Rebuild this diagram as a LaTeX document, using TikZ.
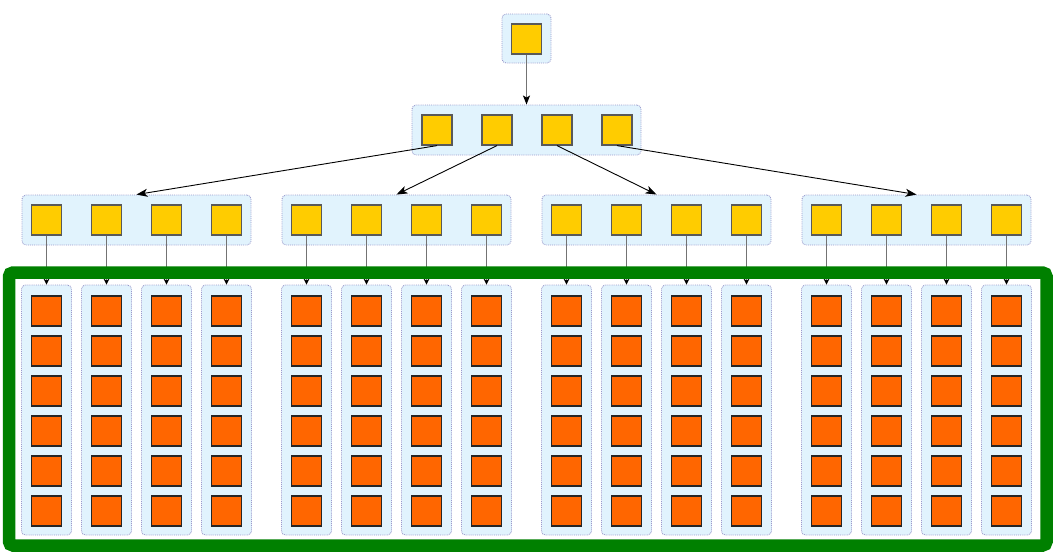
\documentclass[tikz,border=0pt]{standalone}
\usepackage{tikz}
\usetikzlibrary{arrows.meta}

\definecolor{grpfill}{HTML}{E1F3FD}
\definecolor{grpline}{HTML}{9A9ACC}
\definecolor{yelsq}{HTML}{FFCC00}
\definecolor{orgsq}{HTML}{FF6600}
\definecolor{frame}{HTML}{008000}

\begin{document}
\begin{tikzpicture}[
  x=1pt, y=-1pt,
  grp/.style={draw=grpline, fill=grpfill, densely dotted, line width=0.9pt, rounded corners=4pt, inner sep=0pt},
  ysq/.style={draw=black!65, fill=yelsq, line width=1.2pt, minimum size=30pt, inner sep=0pt},
  osq/.style={draw=black!85, fill=orgsq, line width=1.2pt, minimum size=30pt, inner sep=0pt},
  down/.style={draw=black!55, line width=1.5pt, -{Stealth[length=9pt, width=7pt, inset=2pt, fill=black, color=black]}},
  fan/.style={draw=black, line width=0.9pt, -{Stealth[length=11pt, width=8pt, inset=3pt]}},
  leaf/.style={draw=black!55, line width=1.5pt, -{Stealth[length=6pt, width=6pt, fill=black, color=black]}}
]
\useasboundingbox (0,0) rectangle (1054,552);

% Root
\node[grp, minimum width=49pt, minimum height=49pt] (g1) at (526.5,38.5) {};
\node[ysq] (root) at (526.5,39) {};

% Second level
\node[grp, minimum width=229pt, minimum height=50pt] (g2) at (526.5,130) {};
\foreach \i/\x in {1/437,2/497,3/557,4/617}
  \node[ysq] (m\i) at (\x,130) {};

% Third level groups
\foreach \i/\cx in {1/136.5,2/396.5,3/656.5,4/916.5} {
  \node[grp, minimum width=229pt, minimum height=50pt] (g3-\i) at (\cx,220) {};
  \foreach \j/\dx in {1/-90,2/-30,3/30,4/90} {
    \node[ysq] (s\i-\j) at (\cx+\dx,220) {};
    % Leaf columns
    \node[grp, minimum width=50pt, minimum height=250pt] (c\i-\j) at (\cx+\dx,410) {};
    \foreach \k in {1,...,6}
      \node[osq] (c\i-\j-\k) at (\cx+\dx,271+40*\k) {};
  }
}

% Connectors
\draw[down] (root.south) -- (g2.north);
\foreach \i in {1,...,4} {
  \draw[fan] (m\i.south) -- (g3-\i.north);
  \foreach \j in {1,...,4}
    \draw[leaf] (s\i-\j.south) -- (c\i-\j.north);
}

% Frame round the leaves
\draw[frame, line width=12.5pt, rounded corners=4pt] (9,272.5) rectangle (1046.5,545.5);
\end{tikzpicture}
\end{document}
